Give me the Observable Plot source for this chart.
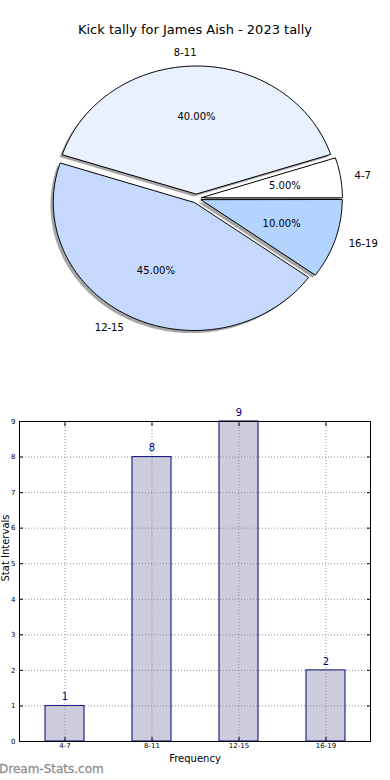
<!DOCTYPE html>
<html><head><meta charset="utf-8">
<script src="https://cdn.jsdelivr.net/npm/d3@7"></script>
<script src="https://cdn.jsdelivr.net/npm/@observablehq/plot@0.6"></script>
<style>
body{margin:0;background:#fff;font-family:"DejaVu Sans",sans-serif;}
#wrap{position:relative;width:390px;height:780px;overflow:hidden;background:#fff;}
#title{position:absolute;left:0;top:22px;width:390px;text-align:center;font-size:13px;line-height:16px;color:#000;}
#pie{position:absolute;left:0;top:40px;}
#bar{position:absolute;left:0;top:400px;}
#wm{position:absolute;left:-1px;top:762px;font-size:12px;line-height:15px;color:#8f8f8f;font-weight:normal;-webkit-text-stroke:0.3px #8f8f8f;}
</style></head>
<body><div id="wrap">
<div id="title">Kick tally for James Aish - 2023 tally</div>
<div id="pie"></div>
<div id="bar"></div>
<div id="wm">Dream-Stats.com</div>
</div>
<script>
const categories = ["4-7", "8-11", "12-15", "16-19"];
const counts = [1, 8, 9, 2];
const explode = [0.035, 0.035, 0.035, 0.035];
const sliceColors = ["#ffffff", "#eaf1fe", "#c5d9fe", "#b3d4ff"];
const yTicks = [0, 1, 2, 3, 4, 5, 6, 7, 8, 9];
const xLabel = "Frequency";
const yLabel = "Stat Intervals";

// ---- Pie geometry (computed from counts) ----
const total = d3.sum(counts);
let acc = 0;
const slices = categories.map((c, i) => {
  const f = counts[i] / total;
  const t1 = acc * 2 * Math.PI, t2 = (acc + f) * 2 * Math.PI;
  acc += f;
  const tm = (t1 + t2) / 2;
  return {c, f, t1, t2, tm, cx: explode[i] * Math.cos(tm), cy: explode[i] * Math.sin(tm), color: sliceColors[i]};
});
function outline(s) {
  const pts = [{x: s.cx, y: s.cy}];
  const n = Math.max(4, Math.ceil((s.t2 - s.t1) / (Math.PI / 180)));
  for (let k = 0; k <= n; k++) {
    const t = s.t1 + (s.t2 - s.t1) * k / n;
    pts.push({x: s.cx + Math.cos(t), y: s.cy + Math.sin(t)});
  }
  return pts;
}
const lx = s => s.cx + 1.1 * Math.cos(s.tm);
const ly = s => s.cy + 1.1 * Math.sin(s.tm);
const px = s => s.cx + 0.6 * Math.cos(s.tm);
const py = s => s.cy + 0.6 * Math.sin(s.tm);

const pieMarks = [];
for (const s of slices) {
  pieMarks.push(Plot.line(outline(s), {x: "x", y: "y", curve: "linear-closed", fill: "#4d4d4d", fillOpacity: 0.5, stroke: "none", dx: -2.8, dy: 2.6}));
}
for (const s of slices) {
  pieMarks.push(Plot.line(outline(s), {x: "x", y: "y", curve: "linear-closed", fill: s.color, stroke: "#000", strokeWidth: 1}));
}
pieMarks.push(Plot.text(slices.filter(s => lx(s) > 1e-6), {x: lx, y: ly, text: "c", textAnchor: "start", fontSize: 10, fill: "#000"}));
pieMarks.push(Plot.text(slices.filter(s => !(lx(s) > 1e-6)), {x: lx, y: ly, text: "c", textAnchor: "end", fontSize: 10, fill: "#000"}));
pieMarks.push(Plot.text(slices, {x: px, y: py, text: s => (s.f * 100).toFixed(2) + "%", fontSize: 10, fill: "#000"}));

const pie = Plot.plot({
  width: 390, height: 340,
  marginLeft: 0, marginRight: 0, marginTop: 0, marginBottom: 0,
  style: {fontFamily: "DejaVu Sans", fontSize: "10px", background: "transparent", overflow: "visible"},
  x: {domain: [-1, 1], range: [55, 337], axis: null},
  y: {domain: [-1, 1], range: [286, 30], axis: null},
  marks: pieMarks
});
document.getElementById("pie").appendChild(pie);

// ---- Bar chart ----
const barData = categories.map((c, i) => ({c, v: counts[i]}));
const bar = Plot.plot({
  width: 390, height: 380,
  marginLeft: 19, marginRight: 20, marginTop: 21, marginBottom: 39,
  style: {fontFamily: "DejaVu Sans", fontSize: "7px", background: "transparent", overflow: "visible"},
  x: {domain: categories, paddingInner: 0.555, paddingOuter: 0.2775, align: 0.5},
  y: {domain: [0, 9]},
  marks: [
    Plot.barY(barData, {x: "c", y: "v", fill: "#ccccdd", stroke: "#000080", strokeWidth: 1}),
    Plot.gridY(yTicks, {stroke: "#888", strokeOpacity: 0.9, strokeDasharray: "1,2"}),
    Plot.gridX(categories, {stroke: "#888", strokeOpacity: 0.9, strokeDasharray: "1,2"}),
    Plot.frame({stroke: "#000", strokeWidth: 1}),
    Plot.axisY(yTicks, {anchor: "left", tickSize: -4, tickPadding: 8, label: null, fontSize: 7}),
    Plot.axisY(yTicks, {anchor: "right", tickSize: -4, tickFormat: () => "", label: null}),
    Plot.axisX(categories, {anchor: "bottom", tickSize: -4, tickPadding: 6, label: null, fontSize: 7}),
    Plot.axisX(categories, {anchor: "top", tickSize: -4, tickFormat: () => "", label: null}),
    Plot.text([xLabel], {frameAnchor: "bottom", dy: 20, text: d => d, fontSize: 10, fill: "#000"}),
    Plot.text([yLabel], {frameAnchor: "left", dx: -14, rotate: -90, text: d => d, fontSize: 10, fill: "#000"}),
    Plot.text(barData, {x: "c", y: "v", text: d => String(d.v), dy: -9, fill: "#000080", fontSize: 10})
  ]
});
document.getElementById("bar").appendChild(bar);
</script>
</body></html>
